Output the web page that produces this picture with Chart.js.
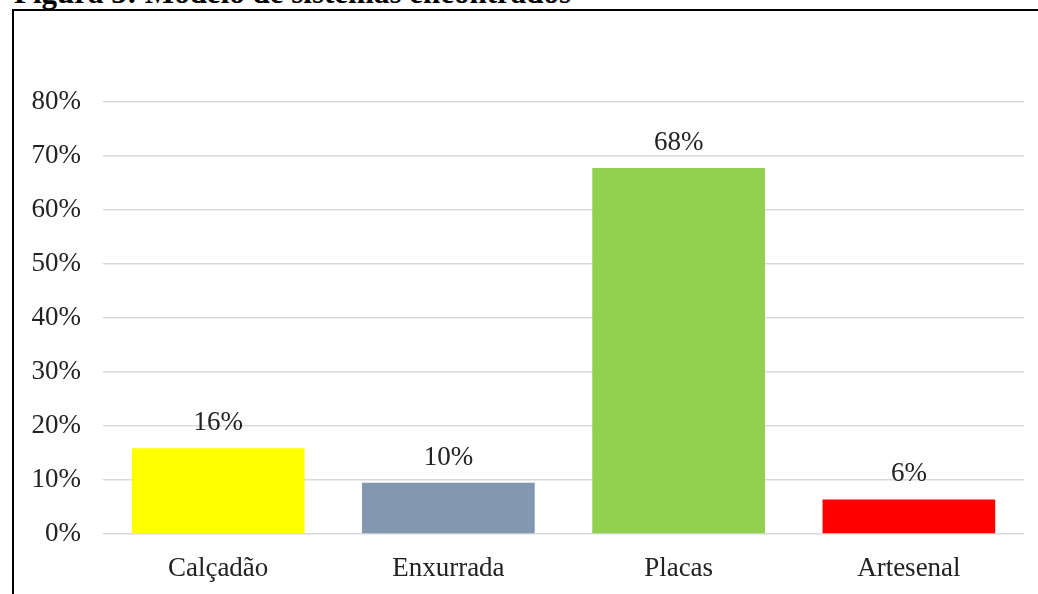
<!DOCTYPE html>
<html>
<head>
<meta charset="utf-8">
<script src="https://cdn.jsdelivr.net/npm/chart.js@4/dist/chart.umd.min.js"></script>
<style>
    html, body { margin: 0; padding: 0; background: #fff; overflow: hidden; }
    #wrap { position: relative; width: 1038px; height: 594px; }
    #titulo {
        position: absolute; left: 14px; top: -25px;
        font: bold 31px "Liberation Serif", "Times New Roman", serif;
        color: #000; white-space: nowrap;
    }
    #moldura {
        position: absolute; left: 12px; top: 9px; width: 1040px; height: 600px;
        border-left: 2px solid #000; border-top: 2px solid #000;
    }
    #grafico { position: absolute; left: 0; top: 0; }
</style>
</head>
<body>
<div id="wrap">
    <div id="titulo">Figura 3: Modelo de sistemas encontrados</div>
    <div id="moldura"></div>
    <canvas id="grafico" width="1038" height="594"></canvas>
</div>
<script>
// Sistemas encontrados (% do total)
const categorias = ['Calçadão', 'Enxurrada', 'Placas', 'Artesenal'];
const percentuais = [15.9, 9.5, 67.8, 6.4];
const cores = ['#ffff00', '#8497b0', '#92d050', '#ff0000'];
const ticksY = [0, 10, 20, 30, 40, 50, 60, 70, 80];

const fonte = { family: '"Liberation Serif", "Times New Roman", serif', size: 27 };

// Rótulos de valor acima das barras
const rotulosBarras = {
    id: 'rotulosBarras',
    afterDatasetsDraw(chart) {
        const ctx = chart.ctx;
        const meta = chart.getDatasetMeta(0);
        ctx.save();
        ctx.font = fonte.size + 'px ' + fonte.family;
        ctx.fillStyle = '#222';
        ctx.textAlign = 'center';
        ctx.textBaseline = 'alphabetic';
        meta.data.forEach((bar, i) => {
            const valor = chart.data.datasets[0].data[i];
            ctx.fillText(Math.round(valor) + '%', bar.x, bar.y - 18);
        });
        ctx.restore();
    }
};

new Chart(document.getElementById('grafico'), {
    type: 'bar',
    data: {
        labels: categorias,
        datasets: [{
            data: percentuais,
            backgroundColor: cores,
            borderWidth: 0,
            categoryPercentage: 0.75,
            barPercentage: 1
        }]
    },
    options: {
        responsive: false,
        animation: false,
        layout: { padding: { top: 102, right: 14, left: 0, bottom: 0 } },
        plugins: {
            legend: { display: false },
            tooltip: { enabled: false }
        },
        scales: {
            y: {
                min: 0,
                max: 80,
                afterFit(scale) { scale.width = 103; },
                afterBuildTicks(scale) { scale.ticks = ticksY.map(v => ({ value: v })); },
                border: { display: false },
                grid: { color: '#d9d9d9', lineWidth: 1.5, drawTicks: false },
                ticks: {
                    padding: 22,
                    color: '#222',
                    font: fonte,
                    callback: v => v + '%'
                }
            },
            x: {
                afterFit(scale) { scale.height = 60; },
                border: { display: false },
                grid: { display: false, drawTicks: false },
                ticks: {
                    padding: 19,
                    color: '#222',
                    font: fonte
                }
            }
        }
    },
    plugins: [rotulosBarras]
});
</script>
</body>
</html>
